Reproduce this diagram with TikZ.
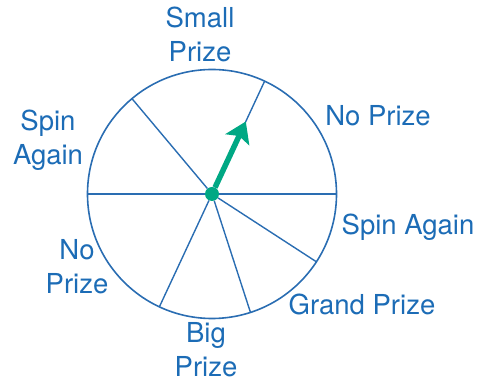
\documentclass[tikz,border=0pt]{standalone}
\usepackage{fontspec}
\setmainfont{TeX Gyre Heros}
\usepackage{tikz}
\usepackage{xcolor}
\usetikzlibrary{arrows.meta, positioning, calc}
\definecolor{wheelblue}{HTML}{2A6DB2}
\definecolor{labelblue}{HTML}{1C6CB6}
\definecolor{pointgreen}{HTML}{00A884}

\begin{document}
\begin{tikzpicture}[x=1pt, y=1pt,
    wheel/.style={circle, draw=wheelblue, line width=1.6pt, minimum size=249pt, inner sep=0pt, outer sep=0pt},
    hub/.style={circle, fill=pointgreen, minimum size=14pt, inner sep=0pt},
    spoke/.style={draw=wheelblue, line width=1.4pt},
    pointer/.style={draw=pointgreen, line width=5.5pt, -{Stealth[length=20pt, width=26pt, inset=4pt]}},
    prize/.style={text=labelblue, align=center, anchor=base, inner sep=0pt, font=\fontsize{27.5}{34}\selectfont}]
    \useasboundingbox (0,0) rectangle (485,385);
    \node[wheel] (wheel) at (212,191) {};
    \node[hub] (hub) at (wheel.center) {};
    \coordinate (tip) at ($(hub)+(65:80)$);
    \draw[spoke] (hub) -- (wheel.0);
    \draw[spoke] (hub) -- (wheel.65);
    \draw[spoke] (hub) -- (wheel.130);
    \draw[spoke] (hub) -- (wheel.180);
    \draw[spoke] (hub) -- (wheel.245);
    \draw[spoke] (hub) -- (wheel.288);
    \draw[spoke] (hub) -- (wheel.327);
    \draw[pointer] (hub) -- (tip);
    \node[prize] (small) at (200,323.3) {Small\\Prize};
    \node[prize] (spinleft) at (48,220) {Spin\\Again};
    \node[prize] (noright) at (378,259) {No Prize};
    \node[prize] (spinright) at (408,150.5) {Spin Again};
    \node[prize] (noleft) at (77,91.7) {No\\Prize};
    \node[prize] (grand) at (362,70) {Grand Prize};
    \node[prize] (big) at (206,8.3) {Big\\Prize};
\end{tikzpicture}
\end{document}
